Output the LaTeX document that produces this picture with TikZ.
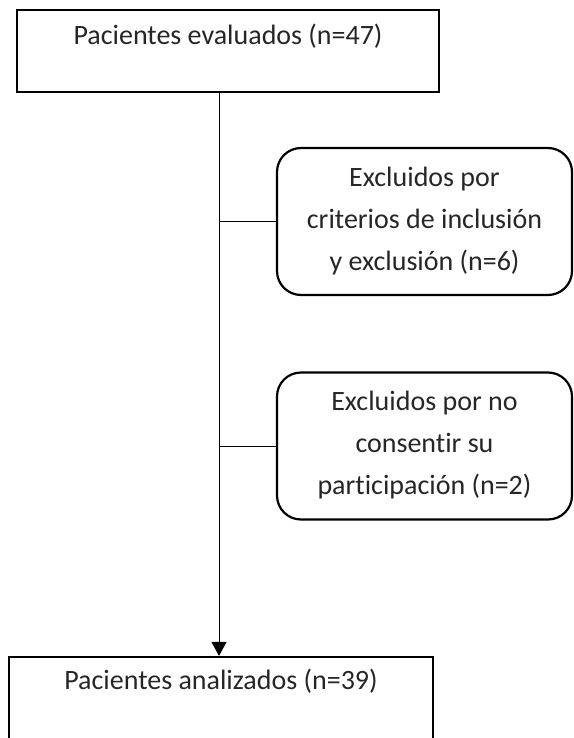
\documentclass[tikz,border=0pt]{standalone}
\usepackage{fontspec}
\setmainfont[Ligatures=NoCommon]{Carlito}
\usetikzlibrary{arrows.meta}

\begin{document}
\begin{tikzpicture}[x=1pt, y=-1pt,
        box/.style={draw=black, line width=2.2pt, text=black!85, inner sep=0pt,
            font=\fontsize{28}{42}\selectfont},
        roundbox/.style={box, rounded corners=24pt, align=center,
            minimum width=295pt, minimum height=147pt}]
        \clip (0, 0) rectangle (573, 738);

        \coordinate (trunk) at (219, 92);

        % Patients boxes
        \node[box, minimum width=422pt, minimum height=82pt, text height=18pt, text depth=30pt]
            (evaluados) at (228, 51) {Pacientes evaluados (n=47)};
        \node[box, minimum width=424pt, minimum height=100pt, text height=18pt, text depth=54pt]
            (analizados) at (221, 707) {Pacientes analizados (n=39)};

        % Excluded boxes
        \node[roundbox, text depth=6pt] (criterios) at (424.5, 221.5)
            {Excluidos por\\criterios de inclusión\\y exclusión (n=6)};
        \node[roundbox, text depth=6pt] (consentir) at (424.5, 446)
            {Excluidos por no\\consentir su\\participación (n=2)};

        % Main line and branches
        \draw[-{Triangle[length=14pt, width=15pt]}, line width=1pt]
            (evaluados.south -| trunk) -- (analizados.north -| trunk);
        \draw[line width=1pt] (criterios.west) -- (criterios.west -| trunk);
        \draw[line width=1pt] (consentir.west) -- (consentir.west -| trunk);

    \end{tikzpicture}
\end{document}
